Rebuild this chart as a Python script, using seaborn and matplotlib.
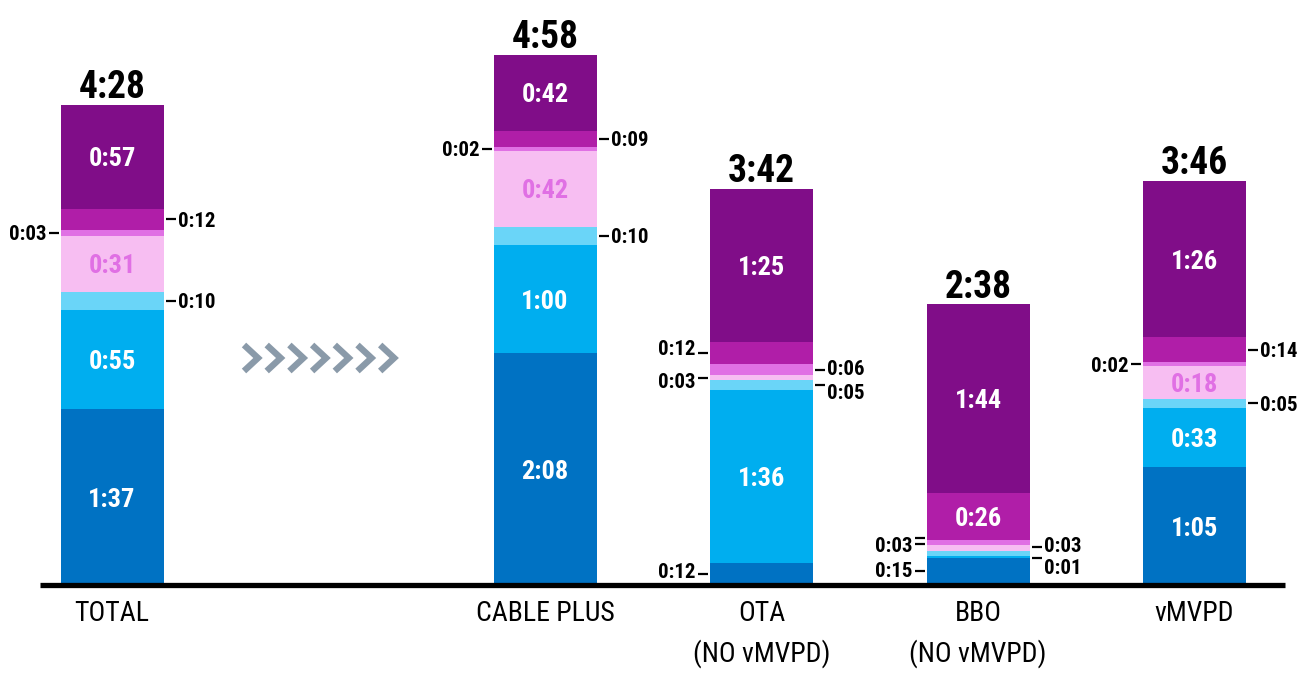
import numpy as np
import pandas as pd
import matplotlib
matplotlib.use("Agg")
import matplotlib.pyplot as plt
import seaborn as sns

# ---------------- data ----------------
groups = ["TOTAL", "CABLE PLUS", "OTA", "BBO", "vMVPD"]
group_labels = ["TOTAL", "CABLE PLUS", "OTA\n(NO vMVPD)", "BBO\n(NO vMVPD)", "vMVPD"]
totals = ["4:28", "4:58", "3:42", "2:38", "3:46"]

# minutes per segment, bottom to top
seg_dark_blue = [97, 128, 12, 15, 65]
seg_blue = [55, 60, 96, 1, 33]
seg_light_cyan = [10, 10, 5, 3, 5]
seg_light_pink = [31, 42, 3, 3, 18]
seg_orchid = [3, 2, 6, 3, 2]
seg_magenta = [12, 9, 12, 26, 14]
seg_purple = [57, 42, 85, 104, 86]

segments = [seg_dark_blue, seg_blue, seg_light_cyan, seg_light_pink,
            seg_orchid, seg_magenta, seg_purple]
colors = ["#0072C3", "#00AEEF", "#6AD5F8", "#F7BEF2", "#E070E4", "#B01EA8", "#800D88"]
PINK_TEXT = "#E070E4"

# ---------------- style ----------------
sns.set_theme(style="white")
plt.rcParams['font.family'] = ['Roboto Condensed', 'Open Sans Condensed',
                               'Liberation Sans Narrow', 'DejaVu Sans']
plt.rcParams['font.stretch'] = 'condensed'

PX_PER_MIN = 1.81
W, H = 1310, 677
BASE_PX = 585
fig = plt.figure(figsize=(W / 100, H / 100), dpi=100)
ax = fig.add_axes([0, (H - BASE_PX) / H, 1, BASE_PX / H])

order = ["TOTAL", " ", "CABLE PLUS", "OTA", "BBO", "vMVPD"]
pos = {g: order.index(g) for g in groups}
SLOT_PX = 216.5
X0_PX = 112
bar_w = 103 / SLOT_PX

vals = np.array(segments, dtype=float)          # (7, 5)
cum = np.cumsum(vals, axis=0)
bottoms = cum - vals

# stacked bars: draw cumulative layers from the top down
for i in reversed(range(len(segments))):
    df = pd.DataFrame({"group": groups, "value": cum[i]})
    sns.barplot(data=df, x="group", y="value", order=order, color=colors[i],
                saturation=1, width=bar_w, errorbar=None, linewidth=0, ax=ax)

ax.set_xlim(-X0_PX / SLOT_PX, (W - X0_PX) / SLOT_PX)
ax.set_ylim(0, BASE_PX / PX_PER_MIN)
for s in ax.spines.values():
    s.set_visible(False)
ax.set_yticks([])
ax.set_ylabel("")
ax.set_xlabel("")
ax.set_xticks([pos[g] for g in groups])
ax.set_xticklabels(group_labels, fontsize=20, color="black", linespacing=1.55)
ax.tick_params(axis="x", length=0, pad=11)

def fmt(m):
    m = int(round(m))
    return f"{m // 60}:{m % 60:02d}"

px2min = 1 / PX_PER_MIN
px2x = 1 / SLOT_PX

# baseline
ax.plot([(40 - X0_PX) * px2x, (1285 - X0_PX) * px2x], [0, 0], color="black",
        lw=3.8, solid_capstyle="butt", clip_on=False, zorder=10)

# totals on top
for j, g in enumerate(groups):
    ax.annotate(totals[j], xy=(pos[g], cum[-1, j]), xytext=(0, 5),
                textcoords="offset points", ha="center", va="baseline",
                fontsize=27, fontweight="bold", color="black")

# inside labels (group index, segment index)
inside = [(0, 0), (0, 1), (0, 3), (0, 6),
          (1, 0), (1, 1), (1, 3), (1, 6),
          (2, 1), (2, 6),
          (3, 5), (3, 6),
          (4, 0), (4, 1), (4, 3), (4, 6)]
for j, i in inside:
    g = groups[j]
    yc = bottoms[i, j] + vals[i, j] / 2
    ax.text(pos[g], yc, fmt(vals[i, j]), ha="center", va="center_baseline",
            fontsize=19, fontweight="bold",
            color=PINK_TEXT if i == 3 else "white")

# side labels: (group index, [segment indices], side, text offset px, dash offset px)
side = [
    (0, [4], "L", 0, 0), (0, [5], "R", 0, 0), (0, [2], "R", 0, 0),
    (1, [4], "L", 0, 0), (1, [5], "R", 0, 0), (1, [2], "R", 0, 0),
    (2, [5], "L", 6, 0), (2, [3], "L", -3, 0), (2, [0], "L", 4, 0),
    (2, [4], "R", 2, 0), (2, [2], "R", -7, 0),
    (3, [4, 3], "L", -3, 4), (3, [0], "L", 2, 0), (3, [2], "R", 3, 6),
    (3, [1], "R", -9, -1),
    (4, [4], "L", 0, 0), (4, [5], "R", 0, 0), (4, [2], "R", 0, 0),
]
gap = 2 * px2x
dash = 10 * px2x
for j, segs, sd, dy, ddy in side:
    g = groups[j]
    sign = -1 if sd == "L" else 1
    edge = pos[g] + sign * bar_w / 2
    x1 = edge + sign * gap
    x2 = x1 + sign * dash
    ys = [bottoms[i, j] + vals[i, j] / 2 + ddy * px2min for i in segs]
    for y in ys:
        ax.plot([x1, x2], [y, y], color="black", lw=1.6, solid_capstyle="butt",
                clip_on=False)
    ax.annotate(fmt(vals[segs[0], j]), xy=(x2, np.mean(ys)),
                xytext=(sign * 1.5, dy * 0.72), textcoords="offset points",
                ha="left" if sd == "R" else "right", va="center_baseline",
                fontsize=15, fontweight="bold", color="black")

# chevrons between TOTAL and CABLE PLUS
for k in range(7):
    xl = 244 + 22.7 * k
    px_x = [xl, xl + 14, xl]
    px_y = [345, 358, 371]
    ax.plot([(p - X0_PX) * px2x for p in px_x],
            [(BASE_PX - p) * px2min for p in px_y],
            color="#8A9AA9", lw=4.6, solid_capstyle="butt",
            solid_joinstyle="miter", clip_on=False)

fig.savefig("out.png", dpi=100)
